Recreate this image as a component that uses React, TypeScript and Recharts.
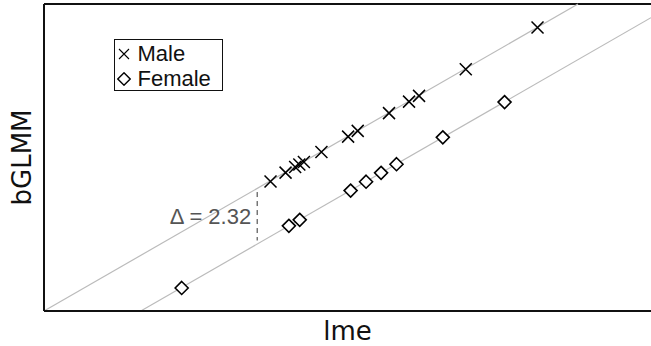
import React from "react";
import { ScatterChart, Scatter, XAxis, YAxis, ReferenceLine, Legend } from "recharts";

// lme vs bGLMM estimates
const malePoints = [
  { lme: -0.57, bglmm: -0.6 },
  { lme: -0.21, bglmm: -0.23 },
  { lme: 0.02, bglmm: 0.0 },
  { lme: 0.12, bglmm: 0.11 },
  { lme: 0.23, bglmm: 0.21 },
  { lme: 0.65, bglmm: 0.63 },
  { lme: 1.29, bglmm: 1.27 },
  { lme: 1.52, bglmm: 1.51 },
  { lme: 2.27, bglmm: 2.25 },
  { lme: 2.75, bglmm: 2.73 },
  { lme: 2.99, bglmm: 2.97 },
  { lme: 4.11, bglmm: 4.08 },
  { lme: 5.83, bglmm: 5.82 },
];

const femalePoints = [
  { lme: -2.7, bglmm: -5.04 },
  { lme: -0.13, bglmm: -2.45 },
  { lme: 0.13, bglmm: -2.2 },
  { lme: 1.35, bglmm: -0.98 },
  { lme: 1.72, bglmm: -0.61 },
  { lme: 2.08, bglmm: -0.24 },
  { lme: 2.45, bglmm: 0.12 },
  { lme: 3.56, bglmm: 1.24 },
  { lme: 5.04, bglmm: 2.71 },
];

const xDomain: [number, number] = [-6, 8.55];
const yDomain: [number, number] = [-6, 6.8];

// fitted lines (slope, intercept) and the gap between them
const delta = 2.32;
const fitMale = { slope: 1, intercept: 0 };
const fitFemale = { slope: 1, intercept: -delta };
const deltaAt = -0.89;

const legendItems = ["Male", "Female"];

// clip a line to the plot domain
const fitSegment = (fit: { slope: number; intercept: number }) => {
  const pts: { x: number; y: number }[] = [];
  const yAtMin = fit.slope * xDomain[0] + fit.intercept;
  const yAtMax = fit.slope * xDomain[1] + fit.intercept;
  pts.push(
    yAtMin >= yDomain[0]
      ? { x: xDomain[0], y: yAtMin }
      : { x: (yDomain[0] - fit.intercept) / fit.slope, y: yDomain[0] }
  );
  pts.push(
    yAtMax <= yDomain[1]
      ? { x: xDomain[1], y: yAtMax }
      : { x: (yDomain[1] - fit.intercept) / fit.slope, y: yDomain[1] }
  );
  return pts;
};

const Cross = (props: any) => {
  const { cx, cy } = props;
  const r = 6;
  return (
    <path
      d={`M${cx - r},${cy - r}L${cx + r},${cy + r}M${cx - r},${cy + r}L${cx + r},${cy - r}`}
      stroke="#000"
      strokeWidth={1.5}
      fill="none"
    />
  );
};

const Diamond = (props: any) => {
  const { cx, cy } = props;
  const r = 6.5;
  return (
    <path
      d={`M${cx},${cy - r}L${cx + r},${cy}L${cx},${cy + r}L${cx - r},${cy}Z`}
      stroke="#000"
      strokeWidth={1.6}
      fill="#fff"
    />
  );
};

const LegendBox = () => (
  <div
    style={{
      width: 109,
      height: 52,
      boxSizing: "border-box",
      border: "1.5px solid #111",
      background: "#fff",
      fontFamily: "Liberation Sans, Arial, sans-serif",
      fontSize: 22,
      color: "#111",
      paddingTop: 1,
    }}
  >
    {legendItems.map((name, i) => (
      <div key={name} style={{ display: "flex", alignItems: "center", height: 25 }}>
        <svg width={14} height={14} style={{ marginLeft: 1.5, marginRight: 7 }}>
          {i === 0 ? (
            <path d="M2,2L12,12M2,12L12,2" stroke="#000" strokeWidth={1.1} fill="none" />
          ) : (
            <path d="M7,0.8L13.2,7L7,13.2L0.8,7Z" stroke="#000" strokeWidth={1.4} fill="none" />
          )}
        </svg>
        <span>{name}</span>
      </div>
    ))}
  </div>
);

export default function App() {
  return (
    <div style={{ position: "absolute", left: 0, top: 0, background: "#fff" }}>
      <ScatterChart width={651} height={346} margin={{ top: 4, right: 0, bottom: 0, left: 0 }}>
        <XAxis
          type="number"
          dataKey="lme"
          domain={xDomain}
          tick={false}
          tickLine={false}
          axisLine={{ stroke: "#111", strokeWidth: 2 }}
          height={35}
          label={{
            value: "lme",
            position: "insideBottom",
            offset: 6,
            fontSize: 26,
            fill: "#111",
            fontFamily: "DejaVu Sans",
          }}
        />
        <YAxis
          type="number"
          dataKey="bglmm"
          domain={yDomain}
          tick={false}
          tickLine={false}
          axisLine={{ stroke: "#111", strokeWidth: 2 }}
          width={44}
          label={{
            value: "bGLMM",
            angle: -90,
            position: "center",
            fontSize: 26,
            fill: "#111",
            fontFamily: "DejaVu Sans",
          }}
        />
        <ReferenceLine y={yDomain[1]} stroke="#111" strokeWidth={2} />
        <ReferenceLine segment={fitSegment(fitMale)} stroke="#bbb" strokeWidth={1.2} />
        <ReferenceLine segment={fitSegment(fitFemale)} stroke="#bbb" strokeWidth={1.2} />
        <ReferenceLine
          segment={[
            { x: deltaAt, y: fitMale.intercept + deltaAt - 0.15 },
            { x: deltaAt, y: fitFemale.intercept + deltaAt + 0.15 },
          ]}
          stroke="#333"
          strokeWidth={1}
          strokeDasharray="5 4"
          label={{
            value: `Δ = ${delta}`,
            position: "left",
            offset: 6,
            fontSize: 22,
            fill: "#555",
            fontFamily: "Liberation Sans, Arial, sans-serif",
          }}
        />
        <Scatter name="Male" data={malePoints} shape={<Cross />} isAnimationActive={false} />
        <Scatter name="Female" data={femalePoints} shape={<Diamond />} isAnimationActive={false} />
        <Legend
          layout="vertical"
          align="center"
          verticalAlign="middle"
          content={<LegendBox />}
          wrapperStyle={{ left: 114, top: 39, width: "auto", height: "auto" }}
        />
      </ScatterChart>
    </div>
  );
}
